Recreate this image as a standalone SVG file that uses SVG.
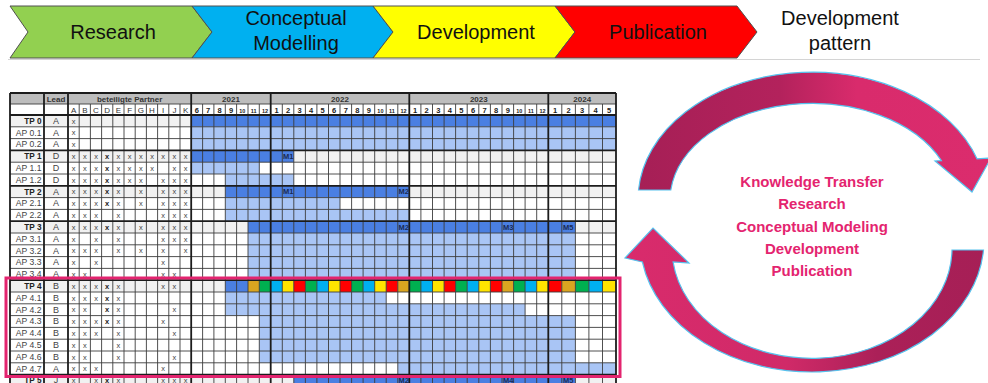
<svg xmlns="http://www.w3.org/2000/svg" width="988" height="383" viewBox="0 0 988 383">
<defs>
<linearGradient id="gTop" gradientUnits="userSpaceOnUse" x1="640" y1="0" x2="990" y2="0">
<stop offset="0" stop-color="#a61f56"/><stop offset="0.4" stop-color="#b3225c"/><stop offset="0.62" stop-color="#d92b6c"/><stop offset="1" stop-color="#db2c6d"/>
</linearGradient>
<linearGradient id="gBot" gradientUnits="userSpaceOnUse" x1="625" y1="0" x2="985" y2="0">
<stop offset="0" stop-color="#d92b6c"/><stop offset="0.45" stop-color="#d02a68"/><stop offset="0.7" stop-color="#ab2058"/><stop offset="1" stop-color="#a61f56"/>
</linearGradient>
</defs>
<style>
.chev{stroke:#505050;stroke-width:1}
.bt{font-family:"Liberation Sans",Arial,sans-serif;font-size:20px;fill:#111;text-anchor:middle}
.f{font-family:"Liberation Sans",Arial,sans-serif}
.hd{font-size:8px;font-weight:bold;fill:#333;text-anchor:middle}
.lt{font-size:8px;fill:#333;text-anchor:middle}
.mo{font-size:7.5px;font-weight:bold;fill:#222;text-anchor:middle}
.mo2{font-size:5.5px;font-weight:bold}
.lb{font-size:8.6px;fill:#444;text-anchor:end}
.tp{font-weight:bold;fill:#222;font-size:8.2px}
.ld{font-size:9px;fill:#444;text-anchor:middle}
.px{font-size:7.5px;fill:#444;text-anchor:middle}
.pd{font-size:7.5px;fill:#222;font-weight:bold;text-anchor:middle}
.dk{fill:#4a7fe2}.li{fill:#a9c5f5}.tg{fill:#f1f1f1}
.go{fill:#daa520}.gr{fill:#00b050}.cy{fill:#00b0f0}.ye{fill:#ffe400}.re{fill:#ff0000}
.ms{font-size:7.5px;font-weight:bold;fill:#1b2b55}
.thin{stroke:#3c3c3c;stroke-width:0.9;fill:none}
.thick{stroke:#1c1c1c;stroke-width:1.8;fill:none}
.arr{stroke:#56c2ee;stroke-width:1.2}
.ct{font-size:15px;font-weight:bold;fill:#e4246f;text-anchor:middle}
</style>
<rect width="988" height="383" fill="#ffffff"/>

<g id="banner">
<g id="research"><path class="chev" fill="#92d050" d="M10,6 L192,6 L212,32 L192,58 L10,58 L28,32 Z"/><text class="bt" x="113" y="39">Research</text></g>
<g id="conceptual"><path class="chev" fill="#00b0f0" d="M192,6 L373,6 L393,32 L373,58 L192,58 L212,32 Z"/><text class="bt" x="296" y="25">Conceptual</text><text class="bt" x="296" y="50">Modelling</text></g>
<g id="development"><path class="chev" fill="#ffff00" d="M373,6 L555,6 L575,32 L555,58 L373,58 L393,32 Z"/><text class="bt" x="476" y="39">Development</text></g>
<g id="publication"><path class="chev" fill="#ff0000" d="M555,6 L737,6 L757,32 L737,58 L555,58 L575,32 Z"/><text class="bt" x="658" y="39">Publication</text></g>
<g id="pattern"><text class="bt" x="840" y="25">Development</text><text class="bt" x="840" y="50">pattern</text></g>
<line x1="8" y1="59.5" x2="980" y2="59.5" stroke="#d4d4d4" stroke-width="1"/>
</g>

<g id="gantt" class="f">
<rect x="10" y="93" width="606" height="11" fill="#bdbdbd"/>
<rect class="tg" x="10" y="115" width="606" height="11.8"/>
<rect class="tg" x="10" y="150.4" width="606" height="11.8"/>
<rect class="tg" x="10" y="185.8" width="606" height="11.8"/>
<rect class="tg" x="10" y="221.2" width="606" height="11.8"/>
<rect class="tg" x="10" y="280.2" width="606" height="11.8"/>
<rect class="tg" x="10" y="374.6" width="606" height="11.8"/>
<rect class="dk" x="191.2" y="115" width="424.8" height="11.8"/>
<rect class="li" x="191.2" y="126.8" width="424.8" height="23.6"/>
<rect class="dk" x="191.2" y="150.4" width="102.6" height="11.8"/>
<rect class="li" x="191.2" y="162.2" width="68.1" height="11.8"/>
<rect class="li" x="225.3" y="174" width="68.5" height="11.8"/>
<rect class="dk" x="225.3" y="185.8" width="184" height="11.8"/>
<rect class="li" x="225.3" y="197.6" width="114.7" height="11.8"/>
<rect class="li" x="225.3" y="209.4" width="184" height="11.8"/>
<rect class="dk" x="248" y="221.2" width="327.4" height="11.8"/>
<rect class="li" x="248" y="233" width="327.4" height="47.2"/>
<rect class="dk" x="225.3" y="280.2" width="22.7" height="11.8"/>
<rect class="li" x="225.3" y="292" width="160.9" height="11.8"/>
<rect class="li" x="225.3" y="303.8" width="299.8" height="11.8"/>
<rect class="li" x="259.3" y="315.6" width="316.1" height="47.2"/>
<rect class="li" x="397.8" y="362.8" width="218.2" height="11.8"/>
<rect class="dk" x="293.8" y="374.6" width="281.6" height="11.8"/>
<g id="tp4-colours">
<rect class="go" x="248" y="280.2" width="11.3" height="11.8"/>
<rect class="gr" x="259.3" y="280.2" width="11.4" height="11.8"/>
<rect class="cy" x="270.7" y="280.2" width="11.6" height="11.8"/>
<rect class="ye" x="282.3" y="280.2" width="11.5" height="11.8"/>
<rect class="re" x="293.8" y="280.2" width="11.6" height="11.8"/>
<rect class="gr" x="305.4" y="280.2" width="11.5" height="11.8"/>
<rect class="cy" x="316.9" y="280.2" width="11.6" height="11.8"/>
<rect class="ye" x="328.5" y="280.2" width="11.5" height="11.8"/>
<rect class="re" x="340" y="280.2" width="11.6" height="11.8"/>
<rect class="gr" x="351.6" y="280.2" width="11.5" height="11.8"/>
<rect class="cy" x="363.1" y="280.2" width="11.6" height="11.8"/>
<rect class="ye" x="374.7" y="280.2" width="11.5" height="11.8"/>
<rect class="re" x="386.2" y="280.2" width="11.6" height="11.8"/>
<rect class="go" x="397.8" y="280.2" width="11.5" height="11.8"/>
<rect class="gr" x="409.3" y="280.2" width="11.6" height="11.8"/>
<rect class="cy" x="420.9" y="280.2" width="11.6" height="11.8"/>
<rect class="ye" x="432.5" y="280.2" width="11.6" height="11.8"/>
<rect class="re" x="444.1" y="280.2" width="11.5" height="11.8"/>
<rect class="gr" x="455.6" y="280.2" width="11.6" height="11.8"/>
<rect class="cy" x="467.2" y="280.2" width="11.6" height="11.8"/>
<rect class="ye" x="478.8" y="280.2" width="11.6" height="11.8"/>
<rect class="re" x="490.4" y="280.2" width="11.6" height="11.8"/>
<rect class="go" x="502" y="280.2" width="11.6" height="11.8"/>
<rect class="gr" x="513.6" y="280.2" width="11.5" height="11.8"/>
<rect class="cy" x="525.1" y="280.2" width="11.6" height="11.8"/>
<rect class="ye" x="536.7" y="280.2" width="11.6" height="11.8"/>
<rect class="re" x="548.3" y="280.2" width="13.5" height="11.8"/>
<rect class="go" x="561.8" y="280.2" width="13.6" height="11.8"/>
<rect class="gr" x="575.4" y="280.2" width="13.5" height="11.8"/>
<rect class="cy" x="588.9" y="280.2" width="13.6" height="11.8"/>
<rect class="ye" x="602.5" y="280.2" width="13.5" height="11.8"/>
</g>
<path class="thin" d="M10,104H616 M10,126.8H616 M10,138.6H616 M10,162.2H616 M10,174H616 M10,197.6H616 M10,209.4H616 M10,233H616 M10,244.8H616 M10,256.6H616 M10,268.4H616 M10,292H616 M10,303.8H616 M10,315.6H616 M10,327.4H616 M10,339.2H616 M10,351H616 M10,362.8H616
M79.2,104V383 M90.4,104V383 M101.6,104V383 M112.8,104V383 M124,104V383 M135.2,104V383 M146.4,104V383 M157.6,104V383 M168.8,104V383 M180,104V383
M202.6,104V383 M213.9,104V383 M225.3,104V383 M236.6,104V383 M248,104V383 M259.3,104V383
M282.3,104V383 M293.8,104V383 M305.4,104V383 M316.9,104V383 M328.5,104V383 M340,104V383 M351.6,104V383 M363.1,104V383 M374.7,104V383 M386.2,104V383 M397.8,104V383
M420.9,104V383 M432.5,104V383 M444.1,104V383 M455.6,104V383 M467.2,104V383 M478.8,104V383 M490.4,104V383 M502,104V383 M513.6,104V383 M525.1,104V383 M536.7,104V383
M561.8,104V383 M575.4,104V383 M588.9,104V383 M602.5,104V383"/>
<path class="thick" d="M10,93H616 M10,115H616 M10,150.4H616 M10,185.8H616 M10,221.2H616 M10,280.2H616 M10,374.6H616
M10,93V383 M44,93V383 M68,93V383 M191.2,93V383 M270.7,93V383 M409.3,93V383 M548.3,93V383 M616,93V383"/>
<text class="hd" x="56" y="101.8">Lead</text>
<text class="hd" x="129.6" y="101.8">beteiligte Partner</text>
<text class="hd" x="231" y="101.8">2021</text>
<text class="hd" x="340" y="101.8">2022</text>
<text class="hd" x="478.8" y="101.8">2023</text>
<text class="hd" x="582.2" y="101.8">2024</text>
<text class="lt" y="112.6"><tspan x="73.6">A</tspan><tspan x="84.8">B</tspan><tspan x="96">C</tspan><tspan x="107.2">D</tspan><tspan x="118.4">E</tspan><tspan x="129.6">F</tspan><tspan x="140.8">G</tspan><tspan x="152">H</tspan><tspan x="163.2">I</tspan><tspan x="174.4">J</tspan><tspan x="185.6">K</tspan></text>
<text class="mo" y="112.6"><tspan x="196.9">6</tspan><tspan x="208.2">7</tspan><tspan x="219.6">8</tspan><tspan x="231">9</tspan><tspan class="mo2" x="242.3">10</tspan><tspan class="mo2" x="253.6">11</tspan><tspan class="mo2" x="265">12</tspan><tspan x="276.5">1</tspan><tspan x="288">2</tspan><tspan x="299.6">3</tspan><tspan x="311.1">4</tspan><tspan x="322.7">5</tspan><tspan x="334.2">6</tspan><tspan x="345.8">7</tspan><tspan x="357.3">8</tspan><tspan x="368.9">9</tspan><tspan class="mo2" x="380.4">10</tspan><tspan class="mo2" x="392">11</tspan><tspan class="mo2" x="403.5">12</tspan><tspan x="415.1">1</tspan><tspan x="426.7">2</tspan><tspan x="438.3">3</tspan><tspan x="449.8">4</tspan><tspan x="461.4">5</tspan><tspan x="473">6</tspan><tspan x="484.6">7</tspan><tspan x="496.2">8</tspan><tspan x="507.8">9</tspan><tspan class="mo2" x="519.3">10</tspan><tspan class="mo2" x="530.9">11</tspan><tspan class="mo2" x="542.5">12</tspan><tspan x="555">1</tspan><tspan x="568.6">2</tspan><tspan x="582.1">3</tspan><tspan x="595.7">4</tspan><tspan x="609.2">5</tspan></text>
<g id="labels">
<text class="lb tp" x="41.5" y="123.8">TP 0</text>
<text class="lb" x="41.5" y="135.6">AP 0.1</text>
<text class="lb" x="41.5" y="147.4">AP 0.2</text>
<text class="lb tp" x="41.5" y="159.2">TP 1</text>
<text class="lb" x="41.5" y="171">AP 1.1</text>
<text class="lb" x="41.5" y="182.8">AP 1.2</text>
<text class="lb tp" x="41.5" y="194.6">TP 2</text>
<text class="lb" x="41.5" y="206.4">AP 2.1</text>
<text class="lb" x="41.5" y="218.2">AP 2.2</text>
<text class="lb tp" x="41.5" y="230">TP 3</text>
<text class="lb" x="41.5" y="241.8">AP 3.1</text>
<text class="lb" x="41.5" y="253.6">AP 3.2</text>
<text class="lb" x="41.5" y="265.4">AP 3.3</text>
<text class="lb" x="41.5" y="277.2">AP 3.4</text>
<text class="lb tp" x="41.5" y="289">TP 4</text>
<text class="lb" x="41.5" y="300.8">AP 4.1</text>
<text class="lb" x="41.5" y="312.6">AP 4.2</text>
<text class="lb" x="41.5" y="324.4">AP 4.3</text>
<text class="lb" x="41.5" y="336.2">AP 4.4</text>
<text class="lb" x="41.5" y="348">AP 4.5</text>
<text class="lb" x="41.5" y="359.8">AP 4.6</text>
<text class="lb" x="41.5" y="371.6">AP 4.7</text>
<text class="lb tp" x="41.5" y="383.4">TP 5</text>
</g>
<text class="ld" x="56 56 56 56 56 56 56 56 56 56 56 56 56 56 56 56 56 56 56 56 56 56 56" y="123.8 135.6 147.4 159.2 171 182.8 194.6 206.4 218.2 230 241.8 253.6 265.4 277.2 289 300.8 312.6 324.4 336.2 348 359.8 371.6 383.4">AAADDDAAAAAAAABBBBBBBAJ</text>
<g id="marks">
<text class="px" x="73.6" y="123.5">x</text>
<text class="px" x="73.6" y="135.3">x</text>
<text class="px" x="73.6" y="147.1">x</text>
<text class="px" x="73.6 84.8 96 118.4 129.6 140.8 152 163.2 174.4 185.6" y="158.9">xxxxxxxxxx</text>
<text class="px" x="73.6 84.8 96 118.4 129.6 140.8 152 174.4 185.6" y="170.7">xxxxxxxxx</text>
<text class="px" x="73.6 84.8 96 118.4 129.6 140.8 163.2 174.4 185.6" y="182.5">xxxxxxxxx</text>
<text class="px" x="73.6 84.8 96 118.4 140.8 163.2 174.4 185.6" y="194.3">xxxxxxxx</text>
<text class="px" x="73.6 84.8 96 118.4 140.8 163.2 174.4 185.6" y="206.1">xxxxxxxx</text>
<text class="px" x="73.6 84.8 96 118.4 163.2 174.4 185.6" y="217.9">xxxxxxx</text>
<text class="px" x="73.6 84.8 96 118.4 140.8 163.2 174.4 185.6" y="229.7">xxxxxxxx</text>
<text class="px" x="73.6 96 118.4 163.2 174.4 185.6" y="241.5">xxxxxx</text>
<text class="px" x="73.6 84.8 96 118.4 140.8 163.2 185.6" y="253.3">xxxxxxx</text>
<text class="px" x="73.6 96 163.2" y="265.1">xxx</text>
<text class="px" x="73.6 84.8 163.2 174.4" y="276.9">xxxx</text>
<text class="px" x="73.6 84.8 96 118.4 163.2 174.4" y="288.7">xxxxxx</text>
<text class="px" x="73.6 84.8 96 118.4" y="300.5">xxxx</text>
<text class="px" x="73.6 84.8 118.4 174.4" y="312.3">xxxx</text>
<text class="px" x="73.6 84.8 96 118.4 163.2" y="324.1">xxxxx</text>
<text class="px" x="73.6 84.8 96 118.4 174.4" y="335.9">xxxxx</text>
<text class="px" x="73.6 84.8 118.4" y="347.7">xxx</text>
<text class="px" x="73.6 84.8 118.4 174.4" y="359.5">xxxx</text>
<text class="px" x="73.6 84.8 96 163.2" y="371.3">xxxx</text>
<text class="px" x="73.6 96 118.4 163.2 174.4 185.6" y="383.1">xxxxxx</text>
<text class="pd" x="107.2 107.2 107.2 107.2 107.2 107.2 107.2 107.2 107.2 107.2 107.2" y="158.9 170.7 182.5 194.3 206.1 229.7 288.7 300.5 312.3 324.1 383.1">xxxxxxxxxxx</text>
</g>
<g id="milestones">
<text class="ms" x="283" y="159">M1</text>
<text class="ms" x="283" y="194.4">M1</text>
<text class="ms" x="398.5" y="194.4">M2</text>
<text class="ms" x="398.5" y="229.8">M2</text>
<text class="ms" x="503" y="229.8">M3</text>
<text class="ms" x="563" y="229.8">M5</text>
<text class="ms" x="398.5" y="383.2">M2</text>
<text class="ms" x="503" y="383.2">M4</text>
<text class="ms" x="563" y="383.2">M5</text>
</g>
<rect id="tp4-highlight" x="6" y="278" width="614" height="98.5" fill="none" stroke="#e3246f" stroke-width="3"/>
</g>

<g id="cycle">
<g id="connectors">
<path class="arr" fill="url(#gTop)" d="M638.5,190 A174,127 0 0 1 977,158.8 L991,158 L972,192 L935,161 L941.4,160.6 A142,97 0 0 0 670.8,190 Z"/>
<path class="arr" fill="url(#gBot)" d="M983.5,250 A172,132 0 0 1 642.4,262 L625,258 L653,228 L689,263 L673.1,262 A140,110 0 0 0 952,250 Z"/>
</g>
<g id="cycle-text" class="f">
<text class="ct" x="812" y="187">Knowledge Transfer</text>
<text class="ct" x="812" y="209">Research</text>
<text class="ct" x="812" y="231.5">Conceptual Modeling</text>
<text class="ct" x="812" y="253.5">Development</text>
<text class="ct" x="812" y="275.5">Publication</text>
</g>
</g>
</svg>
